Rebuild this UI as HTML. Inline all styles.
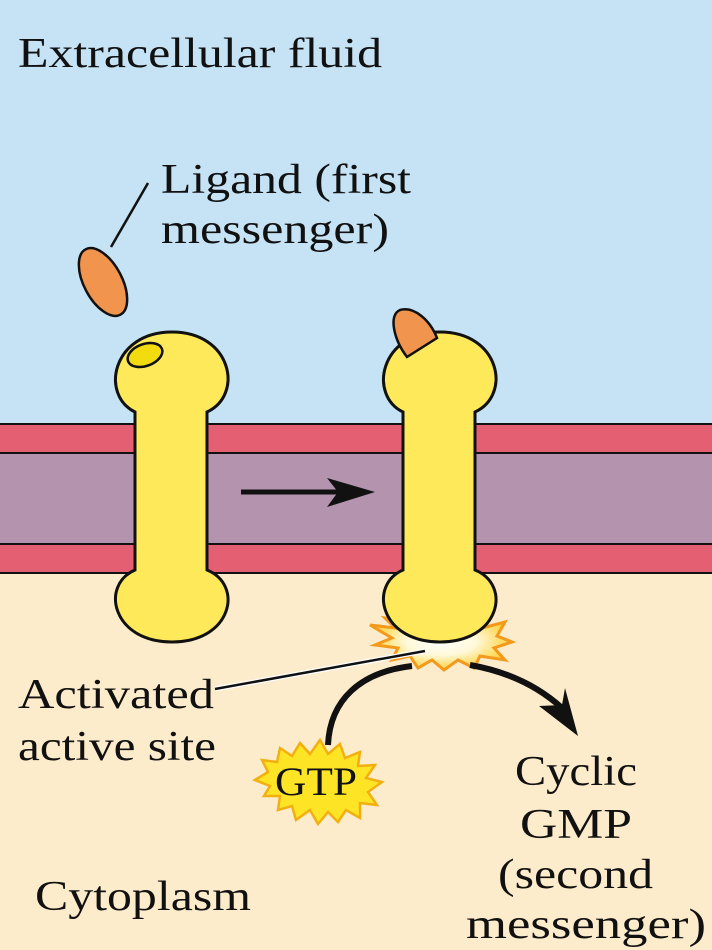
<!DOCTYPE html>
<html><head><meta charset="utf-8"><style>
html,body{margin:0;padding:0;width:712px;height:950px;overflow:hidden}
text{font-family:"Liberation Serif",serif;fill:#111}
</style></head><body>
<svg width="712" height="950" viewBox="0 0 712 950" xmlns="http://www.w3.org/2000/svg">
<defs>
<radialGradient id="glow" cx="0.5" cy="0.5" r="0.5">
<stop offset="0" stop-color="#fff"/><stop offset="0.5" stop-color="#fff8d8"/><stop offset="1" stop-color="#ffd23a"/>
</radialGradient>
</defs>
<rect x="0" y="0" width="712" height="424" fill="#c5e3f5"/>
<rect x="0" y="572" width="712" height="378" fill="#fdeccb"/>
<rect x="0" y="424" width="712" height="30" fill="#e55f72"/>
<rect x="0" y="453" width="712" height="91" fill="#b393ad"/>
<rect x="0" y="544" width="712" height="29" fill="#e55f72"/>
<line x1="0" y1="424" x2="712" y2="424" stroke="#111" stroke-width="2"/>
<line x1="0" y1="453" x2="712" y2="453" stroke="#111" stroke-width="2"/>
<line x1="0" y1="544" x2="712" y2="544" stroke="#111" stroke-width="2"/>
<line x1="0" y1="573" x2="712" y2="573" stroke="#111" stroke-width="2"/>

<polygon points="370,625 395,628 385,618 412,622 420,612 432,624 450,612 460,624 478,615 482,628 505,622 497,636 512,642 494,648 505,660 480,656 474,668 458,660 444,670 432,660 418,668 410,656 392,660 398,648 375,645 392,638" fill="url(#glow)" stroke="#f39a1c" stroke-width="3"/>

<g fill="#fde95a" stroke="#111" stroke-width="3">
<path d="M135,412 C100,395 112,332 172,332 C232,332 244,395 207,412 L207,570 C244,585 232,642 172,642 C112,642 100,585 135,570 Z"/>
<ellipse cx="145" cy="355" rx="18" ry="11" transform="rotate(-20 145 355)" fill="#f2dc10" stroke-width="2.5"/>
</g>
<g fill="#fde95a" stroke="#111" stroke-width="3">
<path d="M403,412 C368,395 380,332 440,332 C500,332 512,395 475,412 L475,570 C512,585 500,642 440,642 C380,642 368,585 403,570 Z"/>
</g>
<path d="M407,357 C394,340 388,315 400,310 C414,306 430,320 437,338 Z" fill="#f0944e" stroke="#111" stroke-width="2.5"/>
<ellipse cx="103" cy="282" rx="19" ry="37" transform="rotate(-28 103 282)" fill="#f0944e" stroke="#111" stroke-width="2.5"/>
<line x1="111" y1="247" x2="148" y2="183" stroke="#111" stroke-width="2.5"/>

<line x1="241" y1="492" x2="350" y2="492" stroke="#111" stroke-width="5"/>
<polygon points="375,492 327,478 338,492 327,507" fill="#111"/>

<line x1="215" y1="689" x2="425" y2="651" stroke="#fff" stroke-width="5"/>
<line x1="215" y1="689" x2="425" y2="651" stroke="#111" stroke-width="2.5"/>

<path d="M328,745 C330,700 360,672 412,666" fill="none" stroke="#111" stroke-width="6"/>
<path d="M470,665 C510,672 540,688 562,708" fill="none" stroke="#111" stroke-width="6"/>
<polygon points="578,736 539,706 562,705 565,688" fill="#111"/>

<polygon points="255,780 268,772 262,760 277,762 280,748 292,756 300,743 310,754 320,740 328,754 340,744 345,758 360,752 358,766 375,765 366,778 382,782 368,792 377,805 360,803 360,818 346,810 338,822 328,812 318,824 310,810 296,820 292,806 278,810 280,796 264,796 270,786" fill="#fde526" stroke="#f2b010" stroke-width="2.5"/>
<text x="275" y="795" font-size="40" textLength="82" lengthAdjust="spacingAndGlyphs">GTP</text>

<text x="18" y="67" font-size="42" textLength="364" lengthAdjust="spacingAndGlyphs">Extracellular fluid</text>
<text x="161" y="193" font-size="42" textLength="250" lengthAdjust="spacingAndGlyphs">Ligand (first</text>
<text x="161" y="243" font-size="42" textLength="228" lengthAdjust="spacingAndGlyphs">messenger)</text>
<text x="18" y="708" font-size="42" textLength="196" lengthAdjust="spacingAndGlyphs">Activated</text>
<text x="18" y="760" font-size="42" textLength="198" lengthAdjust="spacingAndGlyphs">active site</text>
<text x="515" y="785" font-size="42" textLength="122" lengthAdjust="spacingAndGlyphs">Cyclic</text>
<text x="520" y="838" font-size="42" textLength="112" lengthAdjust="spacingAndGlyphs">GMP</text>
<text x="498" y="888" font-size="42" textLength="155" lengthAdjust="spacingAndGlyphs">(second</text>
<text x="466" y="938" font-size="42" textLength="240" lengthAdjust="spacingAndGlyphs">messenger)</text>
<text x="35" y="910" font-size="42" textLength="216" lengthAdjust="spacingAndGlyphs">Cytoplasm</text>
</svg>
</body></html>
